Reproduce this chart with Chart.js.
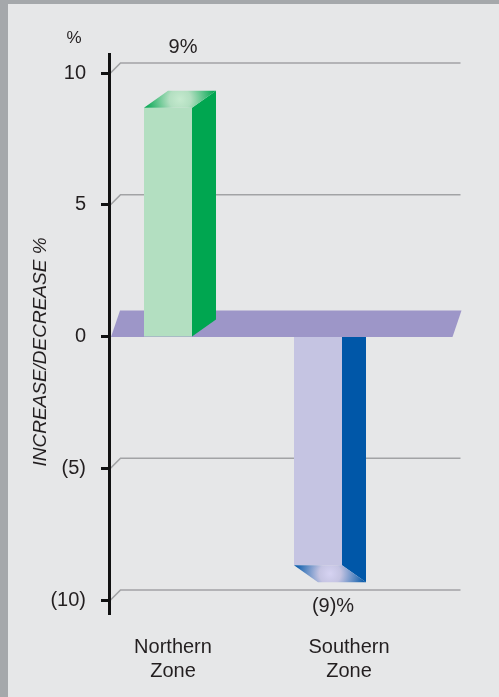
<!DOCTYPE html>
<html>
<head>
<meta charset="utf-8">
<script src="https://cdn.jsdelivr.net/npm/chart.js@4/dist/chart.umd.min.js"></script>
<style>
  html, body { margin: 0; padding: 0; background: #e6e7e8; }
  #wrap { width: 499px; height: 697px; }
</style>
</head>
<body>
<div id="wrap"><canvas id="c" width="499" height="697"></canvas></div>
<script>
// Regional change, percent
const categories = ['Northern Zone', 'Southern Zone'];
const categoryLines = [['Northern', 'Zone'], ['Southern', 'Zone']];
const changePct = [9, -9];
const yMin = -10, yMax = 10, yStep = 5;

const FONT = '"Liberation Sans", Arial, Helvetica, sans-serif';
const TEXT = '#231f20';

// Bar faces: front, side, end-cap highlight
const barColors = {
  pos: { front: '#b3dfc1', side: '#00a650', light: '#c6eacf' },
  neg: { front: '#c5c4e2', side: '#0057a8', light: '#d6d3f2' }
};
const planeColor = '#9d96c8';
const gridColor = '#a2a3a5';

// Box geometry for the extruded bars
const FRONT_W = 48, DEPTH_X = 24, DEPTH_Y = 17, BAR_SHIFT = -40;
// Horizontal nudges for the category captions under each bar
const captionShift = [-11, 15];

const fmtPct = v => v < 0 ? `(${-v})` : `${v}`;

function poly(ctx, pts, fill) {
  ctx.beginPath();
  ctx.moveTo(pts[0][0], pts[0][1]);
  for (let i = 1; i < pts.length; i++) ctx.lineTo(pts[i][0], pts[i][1]);
  ctx.closePath();
  ctx.fillStyle = fill;
  ctx.fill();
}

function capGradient(ctx, cx, cy, c) {
  const g = ctx.createRadialGradient(cx, cy, 0, cx, cy, 36);
  g.addColorStop(0, c.light);
  g.addColorStop(0.3, c.front);
  g.addColorStop(1, c.side);
  return g;
}

function drawBar(ctx, px, py, y0) {
  const L = px + BAR_SHIFT;
  const R = L + FRONT_W;
  if (py <= y0) {
    const c = barColors.pos;
    const ft = py + DEPTH_Y / 2;
    ctx.fillStyle = c.front;
    ctx.fillRect(L, ft, FRONT_W, y0 - ft);
    poly(ctx, [[R, ft], [R + DEPTH_X, ft - DEPTH_Y], [R + DEPTH_X, y0 - DEPTH_Y], [R, y0]], c.side);
    poly(ctx, [[L, ft], [L + DEPTH_X, ft - DEPTH_Y], [R + DEPTH_X, ft - DEPTH_Y], [R, ft]],
      capGradient(ctx, L + 36, ft - DEPTH_Y / 2, c));
  } else {
    const c = barColors.neg;
    const fb = py - DEPTH_Y / 2;
    ctx.fillStyle = c.front;
    ctx.fillRect(L, y0, FRONT_W, fb - y0);
    poly(ctx, [[R, y0], [R + DEPTH_X, y0], [R + DEPTH_X, fb + DEPTH_Y], [R, fb]], c.side);
    poly(ctx, [[L, fb], [R, fb], [R + DEPTH_X, fb + DEPTH_Y], [L + DEPTH_X, fb + DEPTH_Y]],
      capGradient(ctx, L + 36, fb + DEPTH_Y / 2, c));
  }
}

const frame3d = {
  id: 'frame3d',
  beforeDraw(chart) {
    const ctx = chart.ctx;
    ctx.save();
    ctx.fillStyle = '#e6e7e8';
    ctx.fillRect(0, 0, chart.width, chart.height);
    ctx.fillStyle = '#a5a8ab';
    ctx.fillRect(0, 0, 8, chart.height);
    ctx.fillRect(0, 0, chart.width, 4);
    ctx.restore();
  },
  afterDatasetsDraw(chart) {
    const ctx = chart.ctx;
    const ys = chart.scales.y;
    const area = chart.chartArea;
    const axisX = area.left + 0.5;
    const wallRight = axisX + 351;
    const meta = chart.getDatasetMeta(0);
    const y0 = ys.getPixelForValue(0);
    ctx.save();

    // back-wall gridlines with the short receding step from the axis
    ctx.strokeStyle = gridColor;
    ctx.lineWidth = 1.6;
    ys.ticks.forEach(t => {
      if (t.value === 0) return;
      const y = ys.getPixelForValue(t.value);
      ctx.beginPath();
      ctx.moveTo(axisX + 1, y);
      ctx.lineTo(axisX + 11, y - 10);
      ctx.lineTo(wallRight, y - 10);
      ctx.stroke();
    });

    // bars below zero sit behind the zero plane
    meta.data.forEach((el, i) => { if (changePct[i] < 0) drawBar(ctx, el.x, el.y, y0); });

    // zero plane
    poly(ctx, [[axisX + 1.5, y0 + 0.5], [axisX + 10.5, y0 - 26], [wallRight + 1, y0 - 26], [wallRight - 8, y0 + 0.5]], planeColor);

    // bars above zero stand on it
    meta.data.forEach((el, i) => { if (changePct[i] >= 0) drawBar(ctx, el.x, el.y, y0); });

    // value labels
    ctx.fillStyle = TEXT;
    ctx.font = `20px ${FONT}`;
    ctx.textAlign = 'center';
    ctx.textBaseline = 'middle';
    meta.data.forEach((el, i) => {
      const v = changePct[i];
      const y = v >= 0 ? ys.getPixelForValue(yMax) - 26 : ys.getPixelForValue(yMin) + 6;
      ctx.fillText(fmtPct(v) + '%', el.x - 1, y);
    });

    // category captions
    meta.data.forEach((el, i) => {
      categoryLines[i].forEach((line, k) => {
        ctx.fillText(line, el.x + captionShift[i], 647 + k * 24);
      });
    });

    // unit marker above the axis
    ctx.font = `17px ${FONT}`;
    ctx.fillText('%', 74, 38);

    // axis title
    ctx.save();
    ctx.translate(41, 352);
    ctx.rotate(-Math.PI / 2);
    ctx.font = `italic 19px ${FONT}`;
    ctx.fillText('INCREASE/DECREASE %', 0, 0);
    ctx.restore();

    // vertical axis line
    ctx.strokeStyle = '#111';
    ctx.lineWidth = 3;
    ctx.beginPath();
    ctx.moveTo(axisX, area.top - 20);
    ctx.lineTo(axisX, area.bottom + 15);
    ctx.stroke();

    ctx.restore();
  }
};

new Chart(document.getElementById('c'), {
  type: 'bar',
  data: {
    labels: categories,
    datasets: [{
      data: changePct,
      backgroundColor: 'rgba(0,0,0,0)',
      borderWidth: 0
    }]
  },
  options: {
    responsive: false,
    animation: false,
    devicePixelRatio: 1,
    layout: { padding: { top: 73, bottom: 97, left: 0, right: 90 } },
    plugins: { legend: { display: false }, tooltip: { enabled: false } },
    scales: {
      x: { display: false, offset: true },
      y: {
        min: yMin,
        max: yMax,
        afterFit(scale) { scale.width = 109; },
        ticks: {
          stepSize: yStep,
          callback: v => fmtPct(v),
          color: TEXT,
          padding: 15,
          font: { family: FONT, size: 20 }
        },
        grid: {
          display: true,
          drawOnChartArea: false,
          drawTicks: true,
          tickLength: 8,
          tickWidth: 3,
          tickColor: '#111',
          color: '#111',
          lineWidth: 3
        },
        border: { display: false }
      }
    }
  },
  plugins: [frame3d]
});
</script>
</body>
</html>
